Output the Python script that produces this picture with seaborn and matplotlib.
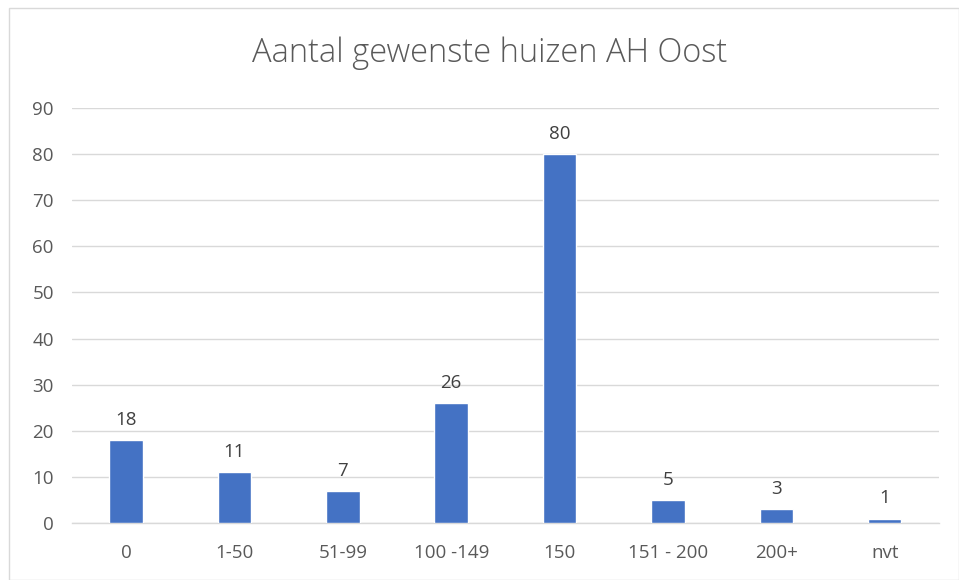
import matplotlib
matplotlib.use('Agg')
import matplotlib.pyplot as plt
from matplotlib.patches import Rectangle
import seaborn as sns
import pandas as pd

categories = ['0', '1-50', '51-99', '100 -149', '150', '151 - 200', '200+', 'nvt']
counts = [18, 11, 7, 26, 80, 5, 3, 1]
title = 'Aantal gewenste huizen AH Oost'

sns.set_style('white')
plt.rcParams['font.family'] = ['Open Sans', 'DejaVu Sans']
text_color = '#595959'

df = pd.DataFrame({'cat': categories, 'n': counts})

fig = plt.figure(figsize=(9.59, 5.8), dpi=100)
ax = fig.add_axes([0.075, 0.098, 0.904, 0.716])

sns.barplot(data=df, x='cat', y='n', color='#4472C4', saturation=1,
            width=0.31, ax=ax, zorder=3)

ax.set_ylim(0, 90)
ax.set_yticks(range(0, 91, 10))
ax.yaxis.grid(True, color='#D9D9D9', linewidth=1, zorder=0)
ax.set_axisbelow(True)
for s in ['top', 'right', 'left']:
    ax.spines[s].set_visible(False)
ax.spines['bottom'].set_color('#D9D9D9')
ax.spines['bottom'].set_linewidth(1)
ax.set_xlabel('')
ax.set_ylabel('')
ax.tick_params(axis='both', length=0, labelsize=13.5, labelcolor=text_color)
ax.tick_params(axis='x', pad=15)
ax.tick_params(axis='y', pad=13)

for c in ax.containers:
    ax.bar_label(c, labels=[str(v) for v in counts], padding=8,
                 fontsize=13.5, color='#404040')

fig.text(0.511, 0.908, title, ha='center', va='center', fontsize=23.5,
         color=text_color, fontweight='light')

# light chart border
fig.add_artist(Rectangle((9 / 959, 0), 1 - 9 / 959, 1 - 8 / 580,
                         transform=fig.transFigure, fill=False,
                         edgecolor='#D9D9D9', linewidth=1))

fig.savefig('out.png', dpi=100)
